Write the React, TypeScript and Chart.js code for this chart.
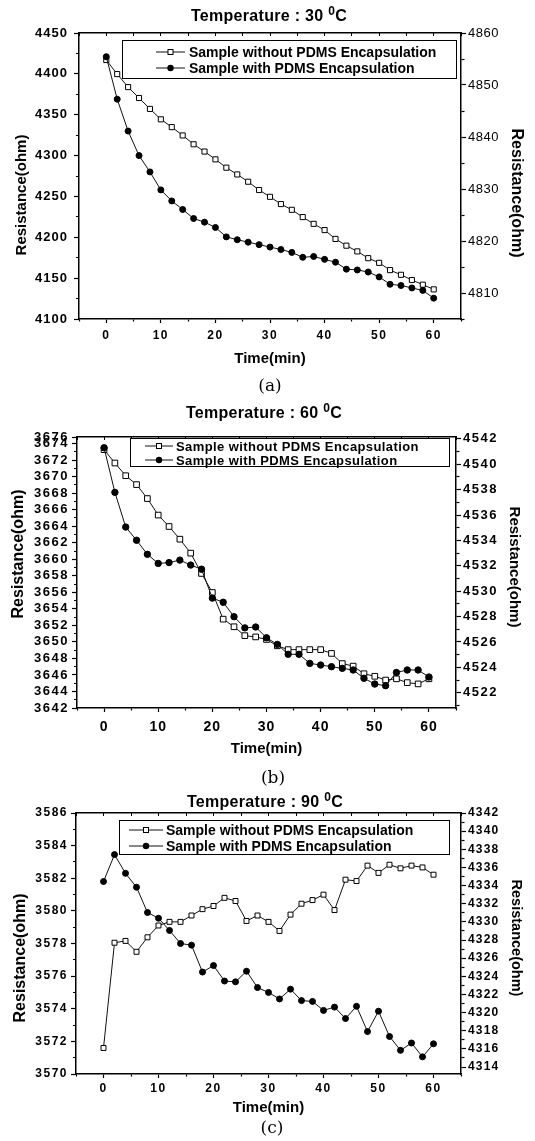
import React, { useEffect, useRef } from 'react';
import { Chart, registerables } from 'chart.js';

Chart.register(...registerables);

const FONT = '"Liberation Sans", Arial, Helvetica, sans-serif';
const SERIF = '"DejaVu Serif", "Liberation Serif", serif';
const PAGE_W = 535;

// ---------------- data ----------------
const times = [0, 2, 4, 6, 8, 10, 12, 14, 16, 18, 20, 22, 24, 26, 28, 30, 32, 34, 36, 38, 40, 42, 44, 46, 48, 50, 52, 54, 56, 58, 60];

const legendWithout = 'Sample without PDMS Encapsulation';
const legendWith = 'Sample with PDMS Encapsulation';
const xAxisTitle = 'Time(min)';
const yAxisTitle = 'Resistance(ohm)';
const xTicks = [0, 10, 20, 30, 40, 50, 60];

// (a) 30 C  — "with" on left axis, "without" on right axis
const aTemp = '30';
const aWith = [4421, 4369, 4330, 4300, 4280, 4258, 4244.5, 4234, 4223, 4218.5, 4212, 4200.5, 4197, 4194, 4191, 4188, 4185, 4181.5, 4175.5, 4176.5, 4173, 4169.5, 4161, 4160, 4157.5, 4151.5, 4142.5, 4141, 4138, 4135, 4125.5];
const aWithout = [4854.8, 4852.1, 4849.6, 4847.5, 4845.4, 4843.4, 4841.9, 4840.3, 4838.6, 4837.2, 4835.7, 4834.1, 4832.8, 4831.4, 4829.8, 4828.5, 4827.1, 4826.0, 4824.6, 4823.3, 4822.1, 4820.4, 4819.1, 4818.0, 4816.7, 4815.8, 4814.4, 4813.5, 4812.5, 4811.6, 4810.7];
const aLeftTicks = [4100, 4150, 4200, 4250, 4300, 4350, 4400, 4450];
const aRightTicks = [4810, 4820, 4830, 4840, 4850, 4860];

// (b) 60 C
const bTemp = '60';
const bWith = [3673.5, 3668.1, 3663.9, 3662.3, 3660.6, 3659.5, 3659.6, 3659.9, 3659.3, 3658.8, 3655.3, 3654.8, 3653.05, 3651.7, 3651.8, 3650.5, 3649.7, 3648.5, 3648.5, 3647.4, 3647.2, 3647.0, 3646.8, 3646.6, 3645.6, 3644.9, 3644.7, 3646.3, 3646.6, 3646.6, 3645.75];
const bWithout = [4541.15, 4540.1, 4539.1, 4538.4, 4537.3, 4536.0, 4535.1, 4534.1, 4533.0, 4531.4, 4529.9, 4527.8, 4527.2, 4526.5, 4526.4, 4526.2, 4525.7, 4525.4, 4525.4, 4525.4, 4525.4, 4525.1, 4524.3, 4524.1, 4523.5, 4523.3, 4523.0, 4523.1, 4522.8, 4522.7, 4523.1];
const bLeftTicks = [3642, 3644, 3646, 3648, 3650, 3652, 3654, 3656, 3658, 3660, 3662, 3664, 3666, 3668, 3670, 3672, 3674];
const bLeftTopLabel = '3676';
const bRightTicks = [4522, 4524, 4526, 4528, 4530, 4532, 4534, 4536, 4538, 4540, 4542];

// (c) 90 C
const cTemp = '90';
const cWith = [3581.8, 3583.45, 3582.3, 3581.45, 3579.9, 3579.55, 3578.8, 3578.0, 3577.9, 3576.25, 3576.65, 3575.7, 3575.65, 3576.3, 3575.3, 3575.0, 3574.6, 3575.2, 3574.5, 3574.45, 3573.9, 3574.1, 3573.4, 3574.15, 3572.6, 3573.85, 3572.3, 3571.45, 3571.9, 3571.05, 3571.85];
const cWithout = [4316.1, 4327.7, 4327.9, 4326.7, 4328.3, 4329.6, 4330.0, 4330.0, 4330.7, 4331.4, 4331.75, 4332.65, 4332.3, 4330.1, 4330.7, 4330.0, 4329.0, 4330.8, 4332.0, 4332.4, 4333.0, 4331.3, 4334.65, 4334.5, 4336.2, 4335.4, 4336.3, 4335.9, 4336.2, 4336.0, 4335.2];
const cLeftTicks = [3570, 3572, 3574, 3576, 3578, 3580, 3582, 3584, 3586];
const cRightTicks = [4314, 4316, 4318, 4320, 4322, 4324, 4326, 4328, 4330, 4332, 4334, 4336, 4338, 4340, 4342];

// ---------------- helpers ----------------
type TickItem = { value: number; label: string; major: boolean };

function withMinor(major: number[], min: number, max: number, topLabel?: string): TickItem[] {
  const out: TickItem[] = [];
  const half = (major[1] - major[0]) / 2;
  if (major[0] - half >= min - 1e-9) out.push({ value: major[0] - half, label: '', major: false });
  major.forEach((v) => {
    out.push({ value: v, label: String(v), major: true });
    if (v + half <= max + 1e-9) out.push({ value: v + half, label: '', major: false });
  });
  if (topLabel) out.push({ value: max, label: topLabel, major: true });
  return out;
}

type FontSpec = { size: number; weight: string; ls: string };

type PanelSpec = {
  top: number;
  height: number;
  plot: { left: number; right: number; top: number; bottom: number };
  withData: number[];
  withoutData: number[];
  left: { min: number; max: number; ticks: TickItem[]; font: FontSpec; pad: number };
  right: { min: number; max: number; ticks: TickItem[]; font: FontSpec; pad: number };
  x: { font: FontSpec; pad: number; titlePad: number };
  sq: number;
  circ: number;
};

const letterSpacingPlugin = {
  id: 'tickLetterSpacing',
  beforeDraw(chart: any, _args: any, opts: any) {
    const map = (opts && opts.map) || {};
    Object.keys(chart.scales).forEach((id) => {
      const s = chart.scales[id];
      const ls = map[id];
      if (!ls || s.__lsPatched) return;
      const orig = s.drawLabels.bind(s);
      s.drawLabels = (area: any) => {
        const ctx = s.ctx;
        ctx.save();
        ctx.letterSpacing = ls;
        orig(area);
        ctx.restore();
      };
      s.__lsPatched = true;
    });
  },
};

function yScale(pos: 'left' | 'right', cfg: PanelSpec['left'], width: number) {
  const tl = 5;
  const minor = 3;
  return {
    type: 'linear',
    position: pos,
    min: cfg.min,
    max: cfg.max,
    afterBuildTicks: (s: any) => {
      s.ticks = cfg.ticks.map((t) => ({ value: t.value, major: t.major }));
    },
    afterFit: (s: any) => {
      s.width = width;
    },
    ticks: {
      autoSkip: false,
      color: '#000',
      padding: cfg.pad,
      font: { family: FONT, size: cfg.font.size, weight: cfg.font.weight },
      callback: (_v: any, i: number) => (cfg.ticks[i] ? cfg.ticks[i].label : ''),
    },
    grid: {
      display: true,
      drawOnChartArea: false,
      drawTicks: true,
      tickLength: tl,
      tickColor: '#000',
      tickWidth: 1.2,
      tickBorderDash: (ctx: any) =>
        ctx.tick && !ctx.tick.major ? (pos === 'left' ? [0, tl - minor, minor, 40] : [minor, 40]) : [],
    },
    border: { display: true, color: '#000', width: 1.5 },
    title: { display: false },
  };
}

const xTickItems = withMinor(xTicks, -5, 65);

function makeConfig(p: PanelSpec): any {
  const xH = p.top + p.height - p.plot.bottom;
  return {
    type: 'line',
    data: {
      datasets: [
        {
          label: legendWith,
          data: times.map((t, i) => ({ x: t, y: p.withData[i] })),
          xAxisID: 'x',
          yAxisID: 'y',
          borderColor: '#111',
          borderWidth: 1,
          pointStyle: 'circle',
          pointRadius: p.circ,
          pointBackgroundColor: '#000',
          pointBorderColor: '#000',
          pointBorderWidth: 1,
          tension: 0,
          fill: false,
        },
        {
          label: legendWithout,
          data: times.map((t, i) => ({ x: t, y: p.withoutData[i] })),
          xAxisID: 'x',
          yAxisID: 'y1',
          borderColor: '#111',
          borderWidth: 1,
          pointStyle: 'rect',
          pointRadius: p.sq,
          pointBackgroundColor: '#fff',
          pointBorderColor: '#000',
          pointBorderWidth: 1,
          tension: 0,
          fill: false,
        },
      ],
    },
    plugins: [letterSpacingPlugin],
    options: {
      animation: false,
      responsive: false,
      maintainAspectRatio: false,
      devicePixelRatio: 1,
      events: [],
      layout: { padding: { top: p.plot.top - p.top, left: 0, right: 0, bottom: 0 } },
      plugins: {
        legend: { display: false },
        tooltip: { enabled: false },
        title: { display: false },
        tickLetterSpacing: { map: { x: p.x.font.ls, y: p.left.font.ls, y1: p.right.font.ls } },
      },
      scales: {
        x: {
          type: 'linear',
          position: 'bottom',
          min: -5,
          max: 65,
          afterBuildTicks: (s: any) => {
            s.ticks = xTickItems.map((t) => ({ value: t.value, major: t.major }));
          },
          afterFit: (s: any) => {
            s.height = xH;
          },
          ticks: {
            autoSkip: false,
            maxRotation: 0,
            minRotation: 0,
            color: '#000',
            padding: p.x.pad,
            font: { family: FONT, size: p.x.font.size, weight: p.x.font.weight },
            callback: (_v: any, i: number) => (xTickItems[i] ? xTickItems[i].label : ''),
          },
          grid: {
            display: true,
            drawOnChartArea: false,
            drawTicks: true,
            tickLength: 4,
            tickColor: '#000',
            tickWidth: 1.2,
            tickBorderDash: (ctx: any) => (ctx.tick && !ctx.tick.major ? [2, 40] : []),
          },
          border: { display: true, color: '#000', width: 1.5 },
          title: {
            display: true,
            text: xAxisTitle,
            color: '#000',
            font: { family: FONT, size: 15, weight: 'bold' },
            padding: { top: 0, bottom: p.x.titlePad },
          },
        },
        x2: {
          type: 'linear',
          axis: 'x',
          position: 'top',
          min: -5,
          max: 65,
          afterBuildTicks: (s: any) => {
            s.ticks = xTickItems.map((t) => ({ value: t.value, major: t.major }));
          },
          afterFit: (s: any) => {
            s.height = 0;
          },
          ticks: { display: false },
          grid: {
            display: true,
            drawOnChartArea: false,
            drawTicks: true,
            tickLength: -3,
            tickColor: '#000',
            tickWidth: 1,
          },
          border: { display: true, color: '#000', width: 1.5 },
        },
        y: yScale('left', p.left, p.plot.left),
        y1: yScale('right', p.right, PAGE_W - p.plot.right),
      },
    },
  };
}

// ---------------- panel specs ----------------
const panelA: PanelSpec = {
  top: 0,
  height: 370,
  plot: { left: 79, right: 461, top: 33, bottom: 319 },
  withData: aWith,
  withoutData: aWithout,
  left: { min: 4100, max: 4450, ticks: withMinor(aLeftTicks, 4100, 4450), font: { size: 13, weight: 'bold', ls: '1px' }, pad: 6 },
  right: { min: 4805, max: 4860, ticks: withMinor(aRightTicks, 4805, 4860), font: { size: 13, weight: 'normal', ls: '0.5px' }, pad: 2 },
  x: { font: { size: 12, weight: 'bold', ls: '1.5px' }, pad: 5, titlePad: 2 },
  sq: 3.6,
  circ: 3,
};

const panelB: PanelSpec = {
  top: 400,
  height: 360,
  plot: { left: 77, right: 456, top: 437, bottom: 708 },
  withData: bWith,
  withoutData: bWithout,
  left: { min: 3642, max: 3674.8, ticks: withMinor(bLeftTicks, 3642, 3674.8, bLeftTopLabel), font: { size: 13, weight: 'bold', ls: '1.5px' }, pad: 3 },
  right: { min: 4520.8, max: 4542.15, ticks: withMinor(bRightTicks, 4520.8, 4542.15), font: { size: 13, weight: 'bold', ls: '1.5px' }, pad: 2 },
  x: { font: { size: 14, weight: 'bold', ls: '1px' }, pad: 7, titlePad: 2 },
  sq: 4,
  circ: 3.2,
};

const panelC: PanelSpec = {
  top: 790,
  height: 330,
  plot: { left: 76, right: 461, top: 813, bottom: 1074 },
  withData: cWith,
  withoutData: cWithout,
  left: { min: 3570, max: 3586, ticks: withMinor(cLeftTicks, 3570, 3586), font: { size: 12, weight: 'bold', ls: '1.5px' }, pad: 3 },
  right: { min: 4313.23, max: 4342, ticks: withMinor(cRightTicks, 4313.23, 4342), font: { size: 12, weight: 'bold', ls: '1.2px' }, pad: 2 },
  x: { font: { size: 12, weight: 'bold', ls: '1.5px' }, pad: 3, titlePad: 3 },
  sq: 3.5,
  circ: 3,
};

// ---------------- components ----------------
function ChartPanel({ spec }: { spec: PanelSpec }) {
  const ref = useRef<HTMLCanvasElement>(null);
  useEffect(() => {
    if (!ref.current) return;
    const chart = new Chart(ref.current, makeConfig(spec));
    return () => chart.destroy();
  }, [spec]);
  return (
    <canvas
      ref={ref}
      width={PAGE_W}
      height={spec.height}
      style={{ position: 'absolute', left: 0, top: spec.top, width: PAGE_W, height: spec.height }}
    />
  );
}

function PanelTitle({ cx, cy, temp }: { cx: number; cy: number; temp: string }) {
  return (
    <div
      style={{
        position: 'absolute',
        left: cx,
        top: cy,
        transform: 'translate(-50%, -50%)',
        font: `bold 16px ${FONT}`,
        lineHeight: '20px',
        whiteSpace: 'nowrap',
        color: '#000',
        letterSpacing: '0.3px',
      }}
    >
      Temperature : {temp}{' '}
      <sup style={{ fontSize: '12px', verticalAlign: '0.5em', lineHeight: 0 }}>0</sup>C
    </div>
  );
}

function YTitle({ cx, cy, size, rot }: { cx: number; cy: number; size: number; rot: number }) {
  return (
    <div
      style={{
        position: 'absolute',
        left: cx,
        top: cy,
        transform: `translate(-50%, -50%) rotate(${rot}deg)`,
        font: `bold ${size}px ${FONT}`,
        lineHeight: `${size}px`,
        whiteSpace: 'nowrap',
        color: '#000',
      }}
    >
      {yAxisTitle}
    </div>
  );
}

function Caption({ cx, cy, text }: { cx: number; cy: number; text: string }) {
  return (
    <div
      style={{
        position: 'absolute',
        left: cx,
        top: cy,
        transform: 'translate(-50%, -50%)',
        font: `17px ${SERIF}`,
        lineHeight: '20px',
        whiteSpace: 'nowrap',
        color: '#000',
      }}
    >
      {text}
    </div>
  );
}

type LegendSpec = {
  left: number;
  top: number;
  width: number;
  height: number;
  rows: number[];
  m0: number;
  m1: number;
  tx: number;
  size: number;
  ls: number;
};

function Marker({ kind, w }: { kind: 'square' | 'circle'; w: number }) {
  const c = w / 2;
  return (
    <svg width={w} height={10} style={{ display: 'block' }}>
      <line x1={0} y1={5} x2={w} y2={5} stroke="#111" strokeWidth={1} />
      {kind === 'square' ? (
        <rect x={c - 2.5} y={2.5} width={5} height={5} fill="#fff" stroke="#000" strokeWidth={1} />
      ) : (
        <circle cx={c} cy={5} r={3.2} fill="#000" />
      )}
    </svg>
  );
}

function LegendBox({ spec }: { spec: LegendSpec }) {
  const items: { label: string; kind: 'square' | 'circle' }[] = [
    { label: legendWithout, kind: 'square' },
    { label: legendWith, kind: 'circle' },
  ];
  return (
    <>
      <div
        style={{
          position: 'absolute',
          left: spec.left,
          top: spec.top,
          width: spec.width,
          height: spec.height,
          border: '1.5px solid #000',
          boxSizing: 'border-box',
          background: '#fff',
        }}
      />
      {items.map((it, i) => (
        <React.Fragment key={it.label}>
          <div style={{ position: 'absolute', left: spec.m0, top: spec.rows[i] - 5 }}>
            <Marker kind={it.kind} w={spec.m1 - spec.m0} />
          </div>
          <div
            style={{
              position: 'absolute',
              left: spec.tx,
              top: spec.rows[i] - spec.size / 2,
              font: `bold ${spec.size}px ${FONT}`,
              lineHeight: `${spec.size}px`,
              letterSpacing: `${spec.ls}px`,
              whiteSpace: 'nowrap',
              color: '#000',
            }}
          >
            {it.label}
          </div>
        </React.Fragment>
      ))}
    </>
  );
}

const legendA: LegendSpec = { left: 122, top: 40, width: 335, height: 39, rows: [52, 68], m0: 156, m1: 185, tx: 189, size: 14, ls: 0 };
const legendB: LegendSpec = { left: 130, top: 438, width: 320, height: 29, rows: [446, 460], m0: 145, m1: 173, tx: 176, size: 13, ls: 0.4 };
const legendC: LegendSpec = { left: 119, top: 820, width: 331, height: 35, rows: [830, 846], m0: 129, m1: 163, tx: 166, size: 14, ls: 0 };

export default function App() {
  return (
    <div style={{ position: 'absolute', left: 0, top: 0, width: PAGE_W, height: 1141, background: '#fff', overflow: 'hidden' }}>
      <ChartPanel spec={panelA} />
      <ChartPanel spec={panelB} />
      <ChartPanel spec={panelC} />

      <PanelTitle cx={269} cy={16} temp={aTemp} />
      <PanelTitle cx={264} cy={413} temp={bTemp} />
      <PanelTitle cx={265} cy={802} temp={cTemp} />

      <YTitle cx={20} cy={195} size={15} rot={-90} />
      <YTitle cx={517} cy={193} size={16} rot={90} />
      <YTitle cx={17.5} cy={554} size={16} rot={-90} />
      <YTitle cx={515} cy={567} size={15} rot={90} />
      <YTitle cx={19.5} cy={958} size={16} rot={-90} />
      <YTitle cx={516.5} cy={938} size={14.5} rot={90} />

      <LegendBox spec={legendA} />
      <LegendBox spec={legendB} />
      <LegendBox spec={legendC} />

      <Caption cx={270} cy={385} text="(a)" />
      <Caption cx={273} cy={777} text="(b)" />
      <Caption cx={272} cy={1127} text="(c)" />
    </div>
  );
}
